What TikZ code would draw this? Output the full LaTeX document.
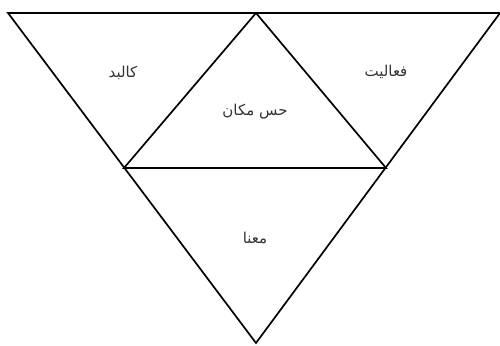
\documentclass[tikz,border=0pt]{standalone}
\usepackage{fontspec}
\newfontfamily\arabicfont[Script=Arabic]{DejaVu Sans}
\TeXXeTstate=1
\begin{document}
\begin{tikzpicture}[x=1pt,y=-1pt,
  edge/.style={draw=black,line width=1.7pt,line join=miter},
  lbl/.style={font=\arabicfont\fontsize{15}{17}\selectfont,text=black!80,inner sep=0pt}]
\useasboundingbox (0,0) rectangle (500,345);
\coordinate (tl) at (8,13);
\coordinate (tr) at (500,13);
\coordinate (bot) at (256,343);
\coordinate (top) at (256,13);
\coordinate (ml) at (124,168);
\coordinate (mr) at (386,168);
\draw[edge] (tl) -- (tr) -- (bot) -- cycle;
\draw[edge] (top) -- (ml) -- (mr) -- cycle;
\node[lbl] (kalbad) at (123,73) {\beginR کالبد\endR};
\node[lbl] (faaliat) at (386,72) {\beginR فعالیت\endR};
\node[lbl] (hes) at (255,112) {\beginR حس مکان\endR};
\node[lbl] (mana) at (255,238) {\beginR معنا\endR};
\end{tikzpicture}
\end{document}
